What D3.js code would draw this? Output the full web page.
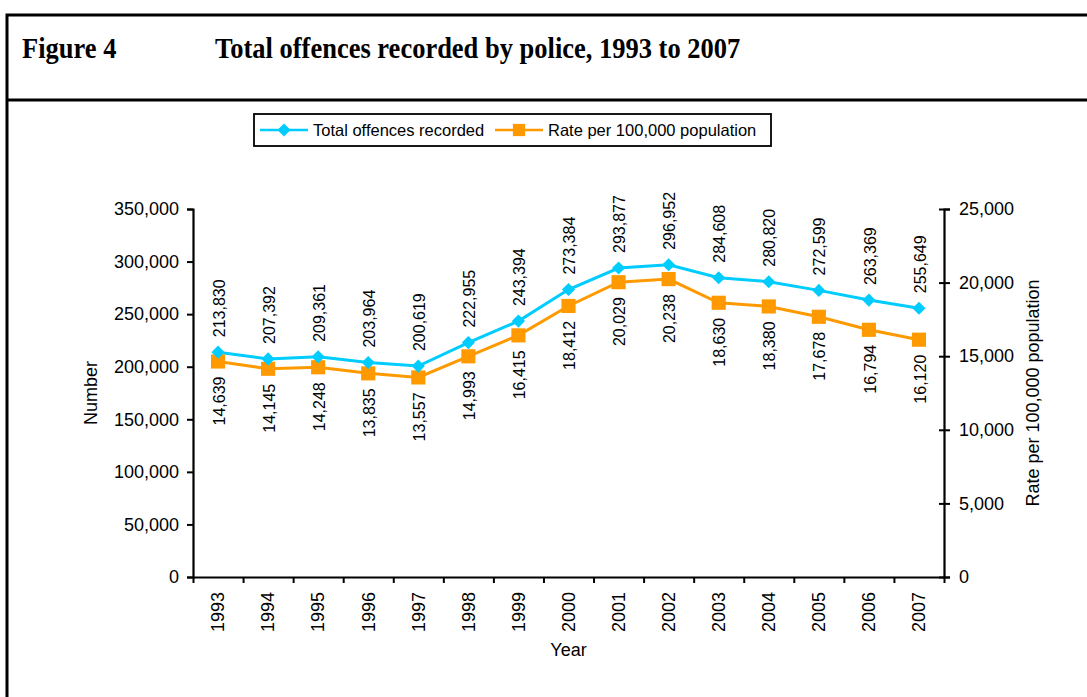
<!DOCTYPE html>
<html>
<head>
<meta charset="utf-8">
<script src="https://cdn.jsdelivr.net/npm/d3@7"></script>
<style>
  html, body { margin: 0; padding: 0; background: #fff; }
  svg { display: block; }
  text { font-family: "Liberation Sans", Arial, sans-serif; fill: #000; }
</style>
</head>
<body>
<svg id="chart" width="1087" height="697"></svg>
<script>
// Police-recorded offences, 1993–2007
const years = ["1993","1994","1995","1996","1997","1998","1999","2000","2001","2002","2003","2004","2005","2006","2007"];
const totalOffences = [213830, 207392, 209361, 203964, 200619, 222955, 243394, 273384, 293877, 296952, 284608, 280820, 272599, 263369, 255649];
const ratePer100k = [14639, 14145, 14248, 13835, 13557, 14993, 16415, 18412, 20029, 20238, 18630, 18380, 17678, 16794, 16120];
const leftTicks = [0, 50000, 100000, 150000, 200000, 250000, 300000, 350000];
const rightTicks = [0, 5000, 10000, 15000, 20000, 25000];
const seriesNames = ["Total offences recorded", "Rate per 100,000 population"];

const svg = d3.select("#chart");
const fmt = d3.format(",");

const cyan = "#00CCFF";
const orange = "#FF9900";

// Frame and title block
svg.append("rect").attr("x", 7).attr("y", 15).attr("width", 1200).attr("height", 1000)
  .attr("fill", "none").attr("stroke", "#000").attr("stroke-width", 3);
svg.append("line").attr("x1", 7).attr("x2", 1087).attr("y1", 100).attr("y2", 100)
  .attr("stroke", "#000").attr("stroke-width", 3);
const titleFont = '"Liberation Serif", "Times New Roman", serif';
svg.append("text").attr("transform", "translate(22,58) scale(1,1.1)")
  .style("font-family", titleFont).style("font-weight", "bold").style("font-size", "26.5px")
  .text("Figure 4");
svg.append("text").attr("transform", "translate(215,58) scale(1,1.1)")
  .style("font-family", titleFont).style("font-weight", "bold").style("font-size", "26.5px")
  .text("Total offences recorded by police, 1993 to 2007");

// Plot geometry
const plotLeft = 193, plotRight = 944, plotTop = 209, plotBottom = 577;

const x = d3.scaleBand().domain(years).range([plotLeft, plotRight]).padding(0);
const xEdges = d3.scaleLinear().domain([0, years.length]).range([plotLeft, plotRight]);
const yL = d3.scaleLinear().domain([0, 350000]).range([plotBottom, plotTop]);
const yR = d3.scaleLinear().domain([0, 25000]).range([plotBottom, plotTop]);
const cx = d => x(d) + x.bandwidth() / 2;

// Left axis
const gL = svg.append("g").attr("transform", `translate(${plotLeft},0)`)
  .call(d3.axisLeft(yL).tickValues(leftTicks).tickFormat(fmt).tickSize(6).tickPadding(8));
// Right axis (ticks cross the line)
const gR = svg.append("g").attr("transform", `translate(${plotRight},0)`)
  .call(d3.axisRight(yR).tickValues(rightTicks).tickFormat(fmt).tickSize(6).tickPadding(9));
gR.selectAll(".tick line").attr("x1", -5).attr("x2", 6);
// Bottom axis: ticks between categories
const gB = svg.append("g").attr("transform", `translate(0,${plotBottom})`)
  .call(d3.axisBottom(xEdges).tickValues(d3.range(0, years.length + 1)).tickFormat("").tickSize(6).tickSizeOuter(0));
// Year labels
const gY = svg.append("g").attr("transform", `translate(0,${plotBottom})`)
  .call(d3.axisBottom(x).tickSize(0).tickSizeOuter(0));
gY.select(".domain").remove();
gY.selectAll(".tick text")
  .attr("transform", "rotate(-90)")
  .attr("x", -15).attr("y", 0).attr("dy", "0.35em")
  .style("text-anchor", "end");

[gL, gR, gB].forEach(g => {
  g.select(".domain").attr("stroke", "#000").attr("stroke-width", 2.2);
  g.selectAll(".tick line").attr("stroke", "#000").attr("stroke-width", 2);
});
[gL, gR, gY].forEach(g => {
  g.selectAll(".tick text").style("font-size", "18px").attr("fill", "#000")
    .style("font-family", '"Liberation Sans", Arial, sans-serif');
});

// Axis titles
svg.append("text").attr("transform", `translate(97,${(plotTop + plotBottom) / 2}) rotate(-90)`)
  .attr("text-anchor", "middle").style("font-size", "18px").text("Number");
svg.append("text").attr("x", (plotLeft + plotRight) / 2).attr("y", 656)
  .attr("text-anchor", "middle").style("font-size", "18px").text("Year");
svg.append("text").attr("transform", `translate(1039,${(plotTop + plotBottom) / 2}) rotate(-90)`)
  .attr("text-anchor", "middle").style("font-size", "18px").text("Rate per 100,000 population");

// Series lines
const lineTotal = d3.line().x((d, i) => cx(years[i])).y(d => yL(d));
const lineRate = d3.line().x((d, i) => cx(years[i])).y(d => yR(d));

svg.append("path").datum(ratePer100k).attr("d", lineRate)
  .attr("fill", "none").attr("stroke", orange).attr("stroke-width", 3);
svg.append("path").datum(totalOffences).attr("d", lineTotal)
  .attr("fill", "none").attr("stroke", cyan).attr("stroke-width", 3);

// Markers
const diamond = d3.symbol().type(d3.symbolDiamond2).size(110);
const square = d3.symbol().type(d3.symbolSquare).size(200);

svg.append("g").selectAll("path").data(ratePer100k).join("path")
  .attr("d", square).attr("fill", orange)
  .attr("transform", (d, i) => `translate(${cx(years[i])},${yR(d)})`);
svg.append("g").selectAll("path").data(totalOffences).join("path")
  .attr("d", diamond).attr("fill", cyan)
  .attr("transform", (d, i) => `translate(${cx(years[i])},${yL(d)})`);

// Data labels: totals above, rates below
svg.append("g").selectAll("text").data(totalOffences).join("text")
  .attr("transform", (d, i) => `translate(${cx(years[i]) + 1},${yL(d) - 15}) rotate(-90)`)
  .attr("text-anchor", "start").attr("dy", "0.35em")
  .style("font-size", "16px").text(d => fmt(d));
svg.append("g").selectAll("text").data(ratePer100k).join("text")
  .attr("transform", (d, i) => `translate(${cx(years[i]) + 1},${yR(d) + 15}) rotate(-90)`)
  .attr("text-anchor", "end").attr("dy", "0.35em")
  .style("font-size", "16px").text(d => fmt(d));

// Legend
const lg = svg.append("g");
lg.append("rect").attr("x", 254).attr("y", 114).attr("width", 517).attr("height", 32)
  .attr("fill", "#fff").attr("stroke", "#000").attr("stroke-width", 1.8);
const legendItems = [
  { name: seriesNames[0], color: cyan, sym: diamond, x0: 260 },
  { name: seriesNames[1], color: orange, sym: d3.symbol().type(d3.symbolSquare).size(150), x0: 495 }
];
legendItems.forEach(it => {
  lg.append("line").attr("x1", it.x0).attr("x2", it.x0 + 48).attr("y1", 130).attr("y2", 130)
    .attr("stroke", it.color).attr("stroke-width", 2.5);
  lg.append("path").attr("d", it.sym).attr("fill", it.color)
    .attr("transform", `translate(${it.x0 + 24},130)`);
  lg.append("text").attr("x", it.x0 + 53).attr("y", 130).attr("dy", "0.35em")
    .style("font-size", "16.5px").text(it.name);
});
</script>
</body>
</html>
